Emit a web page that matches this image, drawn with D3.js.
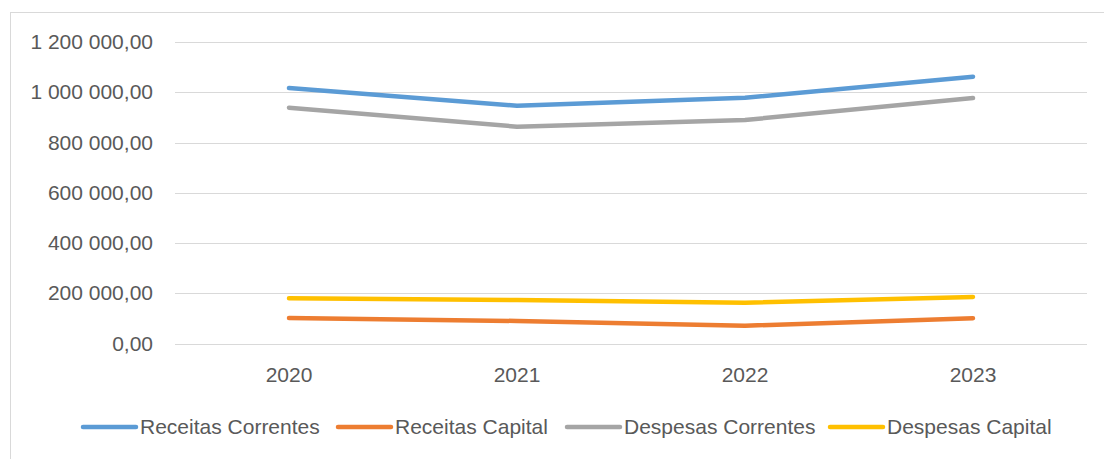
<!DOCTYPE html>
<html>
<head>
<meta charset="utf-8">
<script src="https://cdn.jsdelivr.net/npm/d3@7"></script>
<style>
  body { margin: 0; background: #fff; }
  svg { display: block; font-family: "Liberation Sans", Arial, sans-serif; }
</style>
</head>
<body>
<script>
// Chart data
var years = ["2020", "2021", "2022", "2023"];
var receitasCorrentes = [1016900, 946500, 978300, 1061900];
var receitasCapital = [101500, 89600, 70800, 100300];
var despesasCorrentes = [938500, 862900, 889600, 977100];
var despesasCapital = [179900, 173100, 162400, 185100];
var yTicks = [0, 200000, 400000, 600000, 800000, 1000000, 1200000];

var series = [
    { name: "Receitas Correntes", values: receitasCorrentes, color: "#5B9BD5" },
    { name: "Receitas Capital", values: receitasCapital, color: "#ED7D31" },
    { name: "Despesas Correntes", values: despesasCorrentes, color: "#A5A5A5" },
    { name: "Despesas Capital", values: despesasCapital, color: "#FFC000" }
];

var W = 1104, H = 459;
var svg = d3.select("body").append("svg")
    .attr("width", W)
    .attr("height", H);

// Chart border
svg.append("rect")
    .attr("x", 10.5).attr("y", 12.5)
    .attr("width", W - 10).attr("height", H - 10)
    .attr("fill", "none")
    .attr("stroke", "#d9d9d9");

var plot = { left: 175, right: 1087, top: 42, bottom: 343.5 };

var x = d3.scaleBand()
    .domain(years)
    .range([plot.left, plot.right]);

var y = d3.scaleLinear()
    .domain([0, 1200000])
    .range([plot.bottom, plot.top]);

var fmt = function (v) {
    var s = d3.format(",.2f")(v);
    return s.replace(/,/g, " ").replace(".", ",");
};

// Gridlines
svg.append("g")
    .selectAll("line")
    .data(yTicks)
    .join("line")
    .attr("x1", plot.left)
    .attr("x2", plot.right)
    .attr("y1", function (d) { return Math.round(y(d)) + 0.5; })
    .attr("y2", function (d) { return Math.round(y(d)) + 0.5; })
    .attr("stroke", "#d9d9d9")
    .attr("stroke-width", 1);

// Y axis labels
var yAxis = d3.axisLeft(y)
    .tickValues(yTicks)
    .tickFormat(fmt)
    .tickSize(0)
    .tickPadding(22);

svg.append("g")
    .attr("transform", "translate(" + plot.left + ",0)")
    .call(yAxis)
    .call(function (g) { g.select(".domain").remove(); })
    .selectAll("text")
    .attr("fill", "#595959")
    .style("font-size", "21px")
    .style("font-family", "inherit");

// X axis labels
var xAxis = d3.axisBottom(x).tickSize(0).tickPadding(24);
svg.append("g")
    .attr("transform", "translate(0," + plot.bottom + ")")
    .call(xAxis)
    .call(function (g) { g.select(".domain").remove(); })
    .selectAll("text")
    .attr("fill", "#595959")
    .style("font-size", "21px")
    .style("font-family", "inherit");

// Lines
var line = d3.line()
    .x(function (d, i) { return x(years[i]) + x.bandwidth() / 2; })
    .y(function (d) { return y(d); });

svg.append("g")
    .selectAll("path")
    .data(series)
    .join("path")
    .attr("d", function (s) { return line(s.values); })
    .attr("fill", "none")
    .attr("stroke", function (s) { return s.color; })
    .attr("stroke-width", 4.5)
    .attr("stroke-linecap", "round")
    .attr("stroke-linejoin", "round");

// Legend
var legendX = [83, 338, 567, 830];
var legend = svg.append("g")
    .selectAll("g")
    .data(series)
    .join("g")
    .attr("transform", function (d, i) { return "translate(" + legendX[i] + ",427)"; });

legend.append("line")
    .attr("x1", 0).attr("x2", 53)
    .attr("stroke", function (d) { return d.color; })
    .attr("stroke-width", 4.5)
    .attr("stroke-linecap", "round");

legend.append("text")
    .attr("x", 57)
    .attr("dy", "0.35em")
    .attr("fill", "#595959")
    .style("font-size", "21px")
    .text(function (d) { return d.name; });
</script>
</body>
</html>
